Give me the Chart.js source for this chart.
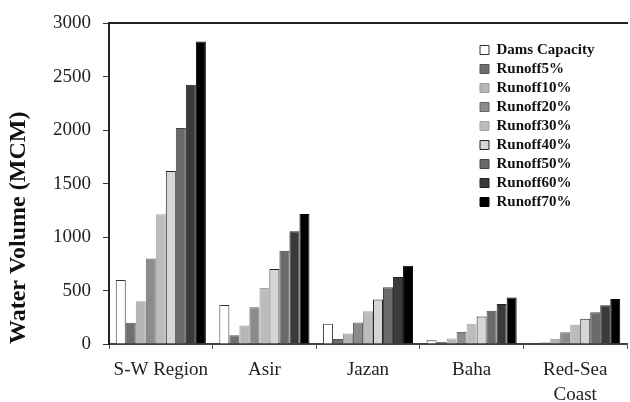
<!DOCTYPE html>
<html>
<head>
<meta charset="utf-8">
<script src="https://cdn.jsdelivr.net/npm/chart.js@4.4.1/dist/chart.umd.min.js"></script>
<style>
  html, body { margin: 0; padding: 0; background: #ffffff; }
  #wrap { width: 630px; height: 402px; position: relative; }
</style>
</head>
<body>
<div id="wrap"><canvas id="c" width="630" height="402"></canvas></div>
<script>
const categories = ["S-W Region", "Asir", "Jazan", "Baha", ["Red-Sea", "Coast"]];
const seriesNames = ["Dams Capacity", "Runoff5%", "Runoff10%", "Runoff20%", "Runoff30%", "Runoff40%", "Runoff50%", "Runoff60%", "Runoff70%"];
const damsCapacity = [600, 365, 190, 34, 3];
const runoff5  = [200, 83, 46, 21, 15];
const runoff10 = [400, 172, 98, 52, 50];
const runoff20 = [800, 343, 202, 113, 110];
const runoff30 = [1213, 524, 306, 190, 180];
const runoff40 = [1620, 702, 416, 257, 236];
const runoff50 = [2022, 873, 530, 312, 296];
const runoff60 = [2426, 1054, 628, 374, 362];
const runoff70 = [2831, 1216, 733, 435, 420];
const yTicks = [0, 500, 1000, 1500, 2000, 2500, 3000];

const seriesValues = [damsCapacity, runoff5, runoff10, runoff20, runoff30, runoff40, runoff50, runoff60, runoff70];
const fills = ["#ffffff", "#6f6f6f", "#b5b5b5", "#8b8b8b", "#bcbcbc", "#d6d6d6", "#6a6a6a", "#3a3a3a", "#000000"];
const borders = ["#333333", "#555555", "#9a9a9a", "#666666", "#a5a5a5", "#222222", "#444444", "#222222", "#000000"];

const datasets = seriesNames.map((name, i) => ({
  label: name,
  data: seriesValues[i],
  backgroundColor: fills[i],
  borderColor: borders[i],
  borderWidth: 1,
  barPercentage: 1.0,
  categoryPercentage: 0.87,
  xAxisID: 'x',
  yAxisID: 'y'
}));

const serif = "'Liberation Serif', 'Times New Roman', serif";

const moveLegend = {
  id: 'moveLegend',
  afterLayout(chart) {
    const lg = chart.legend;
    if (!lg) return;
    const w = lg.width, h = lg.height;
    lg.left = 476; lg.right = 476 + w;
    lg.top = 38.5; lg.bottom = 38.5 + h;
  }
};

new Chart(document.getElementById('c'), {
  type: 'bar',
  data: { labels: categories, datasets },
  plugins: [moveLegend],
  options: {
    responsive: false,
    animation: false,
    devicePixelRatio: 1,
    layout: { padding: { top: 18, right: 3, left: 0, bottom: 0 } },
    plugins: {
      legend: {
        position: 'chartArea',
        align: 'start',
        labels: {
          boxWidth: 9,
          boxHeight: 9,
          padding: 4,
          color: '#111',
          font: { family: serif, size: 15, weight: 'bold' }
        }
      },
      tooltip: { enabled: false }
    },
    scales: {
      x: {
        position: 'bottom',
        grid: { display: true, drawOnChartArea: false, drawTicks: true, tickLength: 5, color: '#555', offset: true },
        border: { display: true, color: '#444', width: 2 },
        ticks: { color: '#222', padding: 8, font: { family: serif, size: 19, lineHeight: 1.35 }, maxRotation: 0, autoSkip: false },
        afterFit(scale) { scale.height = 58; }
      },
      x2: {
        position: 'top',
        type: 'category',
        labels: categories,
        grid: { display: false, drawTicks: false },
        border: { display: true, color: '#222', width: 2 },
        ticks: { display: false }
      },
      y: {
        min: 0,
        max: 3000,
        afterBuildTicks(scale) { scale.ticks = yTicks.map(v => ({ value: v })); },
        grid: { display: true, drawOnChartArea: false, drawTicks: true, tickLength: 6, color: '#333' },
        border: { display: true, color: '#222', width: 2 },
        ticks: { color: '#222', padding: 12, font: { family: serif, size: 19 }, callback: (v) => String(v) },
        title: { display: true, text: 'Water Volume (MCM)', align: 'start', color: '#111', padding: { top: 4, bottom: 0 }, font: { family: serif, size: 24, weight: 'bold' } },
        afterFit(scale) { scale.width = 109; }
      }
    }
  }
});
</script>
</body>
</html>
